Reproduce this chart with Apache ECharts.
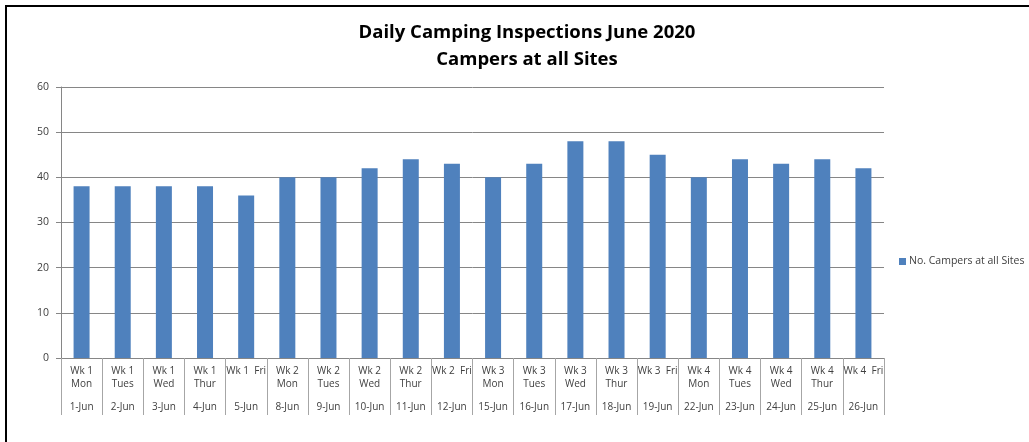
<!DOCTYPE html>
<html>
<head>
<meta charset="utf-8">
<script src="https://cdn.jsdelivr.net/npm/echarts@6/dist/echarts.min.js"></script>
<style>
  body { margin: 0; background: #fff; overflow: hidden; }
  #wrap { position: relative; width: 1029px; height: 442px; overflow: hidden; }
  #k { width: 1029px; height: 442px; }
  .edge-top { position: absolute; left: 5px; top: 5px; width: 1024px; height: 2px; background: #000; }
  .edge-left { position: absolute; left: 5px; top: 5px; width: 2px; height: 437px; background: #000; }
</style>
</head>
<body>
<div id="wrap">
  <div id="k"></div>
  <div class="edge-top"></div>
  <div class="edge-left"></div>
</div>
<script>
// category rows of the x axis
var dayLabels = ['Wk 1\nMon', 'Wk 1\nTues', 'Wk 1\nWed', 'Wk 1\nThur', 'Wk 1  Fri',
  'Wk 2\nMon', 'Wk 2\nTues', 'Wk 2\nWed', 'Wk 2\nThur', 'Wk 2  Fri',
  'Wk 3\nMon', 'Wk 3\nTues', 'Wk 3\nWed', 'Wk 3\nThur', 'Wk 3  Fri',
  'Wk 4\nMon', 'Wk 4\nTues', 'Wk 4\nWed', 'Wk 4\nThur', 'Wk 4  Fri'];
var dates = ['1-Jun', '2-Jun', '3-Jun', '4-Jun', '5-Jun', '8-Jun', '9-Jun', '10-Jun', '11-Jun', '12-Jun',
  '15-Jun', '16-Jun', '17-Jun', '18-Jun', '19-Jun', '22-Jun', '23-Jun', '24-Jun', '25-Jun', '26-Jun'];
var campers = [38, 38, 38, 38, 36, 40, 40, 42, 44, 43, 40, 43, 48, 48, 45, 40, 44, 43, 44, 42];
var yTicks = [0, 10, 20, 30, 40, 50, 60];

var fontFam = '"Open Sans", "Liberation Sans", sans-serif';
var textColor = '#404040';
var lineColor = '#868686';

var option = {
  animation: false,
  title: {
    text: 'Daily Camping Inspections June 2020\nCampers at all Sites',
    left: 522,
    textAlign: 'center',
    top: 14,
    textStyle: { fontFamily: fontFam, fontSize: 18.5, fontWeight: 'bold', color: '#000', lineHeight: 27 }
  },
  legend: {
    data: ['No. Campers at all Sites'],
    left: 894,
    top: 251,
    icon: 'rect',
    itemWidth: 7,
    itemHeight: 7,
    itemGap: 4,
    textStyle: { fontFamily: fontFam, fontSize: 10.5, color: textColor, padding: [0, 0, 0, -2] }
  },
  grid: { left: 61, right: 145, top: 87, bottom: 84 },
  xAxis: [
    {
      type: 'category',
      data: dayLabels,
      position: 'bottom',
      axisLine: { show: true, lineStyle: { color: lineColor } },
      axisTick: { show: true, interval: 0, alignWithLabel: false, length: 57, lineStyle: { color: '#a6a6a6' } },
      axisLabel: { interval: 0, margin: 7, fontFamily: fontFam, fontSize: 10, lineHeight: 13, color: textColor }
    },
    {
      type: 'category',
      data: dates,
      position: 'bottom',
      axisLine: { show: false },
      axisTick: { show: false },
      axisLabel: { interval: 0, margin: 44, fontFamily: fontFam, fontSize: 10, color: textColor }
    }
  ],
  yAxis: {
    type: 'value',
    min: yTicks[0],
    max: yTicks[yTicks.length - 1],
    interval: 10,
    axisLine: { show: true, lineStyle: { color: lineColor } },
    axisTick: { show: true, length: 5, lineStyle: { color: lineColor } },
    axisLabel: { margin: 12, fontFamily: fontFam, fontSize: 10.5, color: textColor },
    splitLine: { lineStyle: { color: lineColor } }
  },
  series: [
    {
      name: 'No. Campers at all Sites',
      type: 'bar',
      data: campers,
      barWidth: 16,
      itemStyle: { color: '#4F81BD' }
    }
  ]
};

var myChart = echarts.init(document.getElementById('k'));
myChart.setOption(option);
</script>
</body>
</html>
